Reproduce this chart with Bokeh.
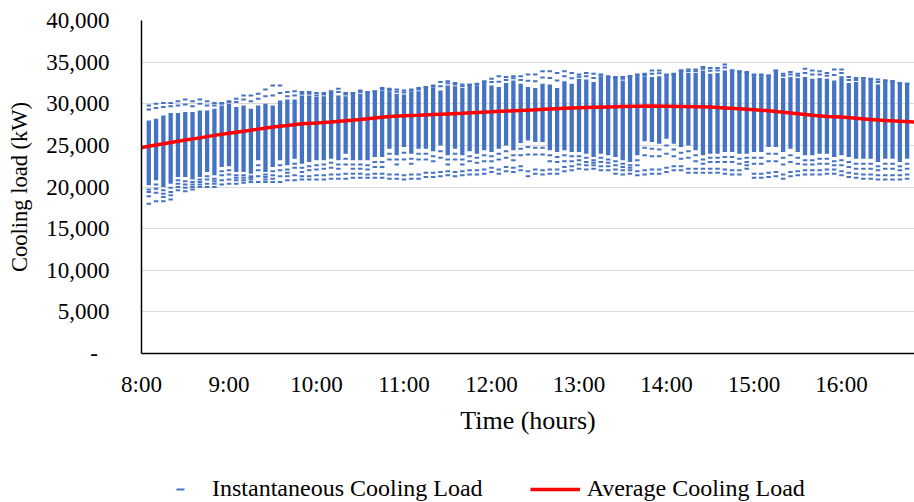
from bokeh.plotting import figure
from bokeh.layouts import column
from bokeh.models import Range1d, FixedTicker, NumeralTickFormatter, Legend, LegendItem
from bokeh.embed import file_html
from bokeh.resources import INLINE

# ---------------- data ----------------
X_TICKS = [8, 9, 10, 11, 12, 13, 14, 15, 16]
X_LABELS = ["8:00", "9:00", "10:00", "11:00", "12:00", "13:00", "14:00", "15:00", "16:00"]
Y_TICKS = [0, 5000, 10000, 15000, 20000, 25000, 30000, 35000, 40000]
STEP_MIN = 5  # columns every 5 minutes, first at 8:05

# instantaneous cooling load, per 5-minute column (kW)
load_max = [29800, 30000, 30100, 30100, 30300, 30500, 30300, 30500, 30300, 30100,
            30100, 30300, 30600, 31000, 31000, 31200, 31700, 32200, 32200, 31400,
            31500, 31400, 31400, 31300, 31300, 31500, 31800, 31300, 31300, 31600,
            31400, 31500, 31900, 31800, 31700, 31600, 31700, 31900, 32000, 32200,
            32600, 32700, 32500, 32300, 32300, 32400, 32700, 33000, 33300, 33200,
            33300, 33300, 33500, 33500, 33900, 33900, 33700, 33900, 33700, 33500,
            33700, 33600, 33500, 33300, 33200, 33200, 33300, 33500, 33600, 34000,
            34000, 33500, 33600, 34000, 34100, 34100, 34400, 34300, 34300, 34700,
            34000, 33900, 33800, 33500, 33500, 33400, 34000, 33600, 33800, 33600,
            34200, 34000, 33900, 33700, 34100, 34100, 33200, 33100, 33100, 33000,
            32900, 32800, 32700, 32500, 32400]
load_upper = [29300, 29500, 29600, 29700, 29800, 29900, 29700, 30000, 29800, 29800,
              30000, 30200, 30200, 30500, 30300, 30600, 30900, 31000, 31300, 30900,
              31000, 31200, 31200, 31000, 31100, 31300, 31400, 31100, 31250, 31400,
              31300, 31450, 31750, 31650, 31450, 31350, 31550, 31700, 31900, 32050,
              32100, 32450, 32300, 32100, 32250, 32300, 32600, 32600, 32650, 32850,
              33050, 32850, 32750, 32700, 33150, 33100, 32800, 33300, 33050, 33250,
              33300, 33100, 33350, 33200, 33100, 33000, 33300, 33400, 33450, 33600,
              33650, 33400, 33550, 34000, 33900, 33900, 34200, 33950, 34000, 34350,
              34000, 33850, 33700, 33400, 33400, 33350, 33950, 33350, 33500, 33350,
              33700, 33500, 33500, 33350, 33450, 33700, 32850, 32850, 33000, 32950,
              32600, 32800, 32700, 32500, 32400]
band_high = [28000, 28200, 28600, 28900, 28900, 29000, 29000, 29200, 29200, 29400,
             29800, 30000, 29600, 29800, 29400, 29800, 30000, 29800, 30400, 30500,
             30500, 31000, 31000, 30800, 30900, 31200, 31000, 30900, 31200, 31200,
             31200, 31400, 31600, 31500, 31200, 31100, 31400, 31500, 31800, 31900,
             31600, 32200, 32100, 31900, 32200, 32200, 32500, 32200, 32000, 32500,
             32800, 32400, 32000, 31900, 32400, 32300, 31900, 32700, 32400, 33000,
             32900, 32600, 33200, 33100, 33000, 32800, 33300, 33300, 33300, 33200,
             33300, 33300, 33500, 34000, 33700, 33700, 34000, 33600, 33700, 34000,
             34000, 33800, 33600, 33300, 33300, 33300, 33900, 33100, 33200, 33100,
             33200, 33000, 33100, 33000, 32800, 33300, 32500, 32600, 32900, 32900,
             32300, 32800, 32700, 32500, 32400]
band_low = [20200, 20800, 20000, 20400, 21200, 21200, 20900, 21200, 21800, 21400,
            22400, 22500, 21800, 21800, 21600, 23200, 21800, 22400, 23200, 22600,
            23400, 22800, 23000, 23200, 23200, 23400, 23200, 24000, 23200, 23200,
            23200, 23600, 23600, 24600, 23800, 24800, 24000, 24600, 24600, 24300,
            25000, 23800, 24600, 23800, 24300, 24000, 24400, 24200, 24600, 25000,
            24400, 25300, 25600, 25400, 25400, 24400, 24200, 24400, 24200, 24200,
            24000, 23600, 24000, 23800, 23600, 23200, 23000, 23800, 25500, 25400,
            25200, 25800, 25200, 24800, 25000, 24400, 23800, 24000, 24000, 24200,
            24200, 24000, 24000, 24200, 24200, 24800, 24800, 24200, 24600, 24200,
            23800, 23800, 24000, 24000, 23600, 23800, 23600, 23400, 23400, 23400,
            23000, 23400, 23400, 23000, 23400]
load_low1 = [19700, 20300, 19600, 19900, 20800, 20700, 20600, 20900, 21300, 21000,
             21900, 22000, 21400, 21400, 21300, 22600, 21500, 21900, 22600, 22100,
             22800, 22300, 22500, 22600, 22700, 22900, 22700, 23400, 22700, 22700,
             22600, 23000, 23000, 24000, 23300, 24100, 23400, 24000, 24000, 23700,
             24300, 23300, 24000, 23300, 23700, 23500, 23800, 23700, 24000, 24300,
             23800, 24600, 24800, 24700, 24700, 23800, 23600, 23800, 23700, 23700,
             23500, 23200, 23500, 23300, 23100, 22800, 22600, 23200, 24700, 24600,
             24500, 25000, 24500, 24100, 24300, 23800, 23300, 23500, 23500, 23600,
             23600, 23400, 23500, 23500, 23500, 24000, 24000, 23500, 23800, 23500,
             23200, 23200, 23400, 23400, 23100, 23200, 23000, 22800, 22800, 22800,
             22500, 22800, 22800, 22500, 22800]
load_low2 = [19400, 19800, 19200, 19400, 20400, 20300, 20300, 20600, 20900, 20700,
             21400, 21500, 21100, 21100, 21100, 22000, 21200, 21400, 22000, 21700,
             22300, 21800, 22000, 22100, 22200, 22300, 22200, 22700, 22200, 22200,
             22100, 22400, 22400, 23300, 22700, 23300, 22800, 23300, 23300, 23100,
             23500, 22700, 23300, 22700, 23100, 22900, 23100, 23100, 23300, 23500,
             23200, 23800, 23900, 23900, 23900, 23100, 23000, 23100, 23100, 23200,
             23000, 22900, 23000, 22900, 22600, 22400, 22300, 22600, 23800, 23700,
             23700, 24000, 23700, 23400, 23500, 23100, 22800, 23000, 23000, 23000,
             23000, 22800, 23000, 22800, 22800, 23100, 23100, 22700, 23000, 22800,
             22700, 22700, 22800, 22800, 22600, 22600, 22400, 22200, 22200, 22200,
             22000, 22200, 22200, 22000, 22200]
load_low3 = [18900, 19300, 18800, 19000, 20000, 19900, 20000, 20300, 20400, 20400,
             20800, 20900, 20800, 20800, 20900, 21300, 20900, 21000, 21300, 21300,
             21400, 21300, 21300, 21400, 21400, 21500, 21500, 21600, 21600, 21600,
             21500, 21600, 21600, 21500, 21500, 21400, 21500, 21500, 21700, 21700,
             21800, 21900, 21800, 21900, 22000, 22000, 22100, 22300, 22100, 22400,
             22300, 22500, 21900, 22100, 22000, 22100, 22100, 22400, 22500, 22700,
             22600, 22600, 22500, 22500, 22100, 22000, 22000, 21900, 22000, 22100,
             22100, 22300, 22500, 22500, 22200, 22200, 22200, 22200, 22200, 22100,
             22000, 22000, 22600, 21600, 21600, 21700, 21800, 21500, 21800, 21900,
             22000, 22000, 22000, 22100, 22100, 21900, 21700, 21600, 21500, 21500,
             21400, 21400, 21400, 21400, 21500]
load_min = [18000, 18300, 18300, 18500, 19600, 19500, 19700, 20000, 20000, 20000,
            20300, 20400, 20400, 20500, 20600, 20600, 20600, 20600, 20600, 20800,
            20800, 20900, 20900, 20900, 20900, 21000, 21000, 21000, 21100, 21100,
            21100, 21100, 21100, 21000, 21000, 20900, 21000, 21000, 21200, 21200,
            21300, 21400, 21300, 21400, 21500, 21500, 21600, 21800, 21600, 21900,
            21800, 22000, 21300, 21600, 21500, 21600, 21600, 21900, 22000, 22200,
            22100, 22200, 22000, 22000, 21600, 21500, 21600, 21400, 21500, 21600,
            21600, 21800, 22000, 22000, 21700, 21700, 21700, 21700, 21700, 21600,
            21500, 21500, 22200, 21100, 21100, 21200, 21300, 21000, 21300, 21400,
            21500, 21500, 21500, 21600, 21600, 21400, 21200, 21100, 21000, 21000,
            20900, 20900, 20900, 20900, 21000]

# average cooling load (kW), every 10 minutes from 8:00
avg_times = ["8:00", "8:10", "8:20", "8:30", "8:40", "8:50", "9:00", "9:10", "9:20", "9:30",
             "9:40", "9:50", "10:00", "10:10", "10:20", "10:30", "10:40", "10:50", "11:00", "11:10",
             "11:20", "11:30", "11:40", "11:50", "12:00", "12:10", "12:20", "12:30", "12:40", "12:50",
             "13:00", "13:10", "13:20", "13:30", "13:40", "13:50", "14:00", "14:10", "14:20", "14:30",
             "14:40", "14:50", "15:00", "15:10", "15:20", "15:30", "15:40", "15:50", "16:00", "16:10",
             "16:20", "16:30", "16:40", "16:50"]
avg_load = [24740, 25050, 25350, 25650, 25900, 26200, 26450, 26700, 26950, 27200,
            27400, 27600, 27700, 27820, 27950, 28100, 28300, 28470, 28550, 28620,
            28700, 28780, 28850, 28950, 29030, 29120, 29200, 29280, 29370, 29450,
            29520, 29570, 29620, 29670, 29710, 29720, 29710, 29680, 29640, 29600,
            29500, 29400, 29280, 29150, 28980, 28800, 28620, 28480, 28400, 28250,
            28120, 28000, 27900, 27800]

# ---------------- build ----------------
BLUE = "#4472C4"
RED = "#FF0000"
FONT = "Liberation Serif"

n = len(load_max)
col_x = [8 + (i + 1) * STEP_MIN / 60 for i in range(n)]
avg_x = [int(t.split(":")[0]) + int(t.split(":")[1]) / 60 for t in avg_times]

dash_x, dash_y = [], []
for arr in (load_max, load_upper, load_low1, load_low2, load_low3, load_min):
    dash_x.extend(col_x)
    dash_y.extend(arr)

x_rng = Range1d(8.0, 8.0 + 773 / 87.5)

p = figure(width=914, height=460, output_backend="svg", toolbar_location=None,
           x_range=x_rng, y_range=Range1d(0, 40000),
           min_border_left=141, min_border_right=0, min_border_top=20, min_border_bottom=107)
p.outline_line_color = None
p.background_fill_color = "white"
p.border_fill_color = "white"

p.vbar(x=col_x, bottom=band_low, top=band_high, width=0.049, fill_color=BLUE, line_color=None)
p.scatter(x=dash_x, y=dash_y, marker="dash", size=4.5, line_width=2, line_color=BLUE)
p.line(x=avg_x, y=avg_load, line_color=RED, line_width=3.5)

p.xaxis.ticker = FixedTicker(ticks=X_TICKS)
p.xaxis.major_label_overrides = {t: l for t, l in zip(X_TICKS, X_LABELS)}
p.yaxis.ticker = FixedTicker(ticks=Y_TICKS)
p.yaxis.formatter = NumeralTickFormatter(format="0,0")
p.yaxis.major_label_overrides = {0: "-\u00a0\u00a0"}

for ax in (p.xaxis[0], p.yaxis[0]):
    ax.major_tick_line_color = None
    ax.minor_tick_line_color = None
    ax.axis_line_color = "black"
    ax.axis_line_width = 1.5
    ax.major_label_text_font = FONT
    ax.major_label_text_font_size = "23px"
    ax.major_label_text_color = "black"
    ax.axis_label_text_font = FONT
    ax.axis_label_text_font_style = "normal"
    ax.axis_label_text_color = "black"

p.xaxis.axis_label = "Time (hours)"
p.yaxis.axis_label = "Cooling load (kW)"
p.xaxis.axis_label_text_font_size = "26px"
p.yaxis.axis_label_text_font_size = "22.5px"
p.yaxis.major_label_standoff = 26
p.xaxis.major_label_standoff = 12
p.yaxis.axis_label_standoff = 11
p.xaxis.axis_label_standoff = 6

p.xgrid.grid_line_color = None
p.ygrid.grid_line_color = "#D9D9D9"
p.ygrid.grid_line_width = 1.2

# legend strip below the chart (its data lie outside the strip's range, so only the legend shows)
leg = figure(width=914, height=42, output_backend="svg", toolbar_location=None,
             x_axis_type=None, y_axis_type=None, x_range=Range1d(0, 1), y_range=Range1d(0, 1),
             min_border_left=141, min_border_right=0, min_border_top=0, min_border_bottom=0)
leg.outline_line_color = None
leg.xgrid.visible = False
leg.ygrid.visible = False
leg_dash = leg.scatter(x=col_x, y=load_max, marker="dash", size=4.5, line_width=2, line_color=BLUE)
leg_line = leg.line(x=avg_x, y=avg_load, line_color=RED, line_width=3.5)
legend = Legend(items=[LegendItem(label="Instantaneous Cooling Load", renderers=[leg_dash]),
                       LegendItem(label="Average Cooling Load", renderers=[leg_line])],
                orientation="horizontal", location=(14, 0), padding=0, margin=0,
                spacing=47, glyph_width=50, glyph_height=20, label_standoff=7,
                label_text_font=FONT, label_text_font_size="24px", label_text_color="black",
                background_fill_alpha=0, border_line_color=None)
leg.add_layout(legend, "center")

layout = column(p, leg, spacing=0)
open("out.html", "w").write(file_html(layout, INLINE))
